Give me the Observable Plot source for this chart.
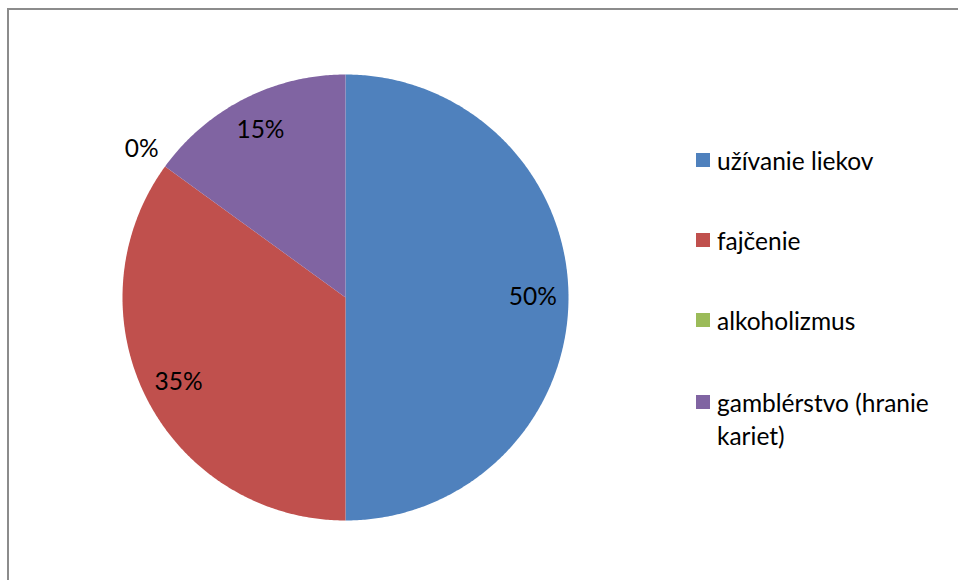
<!DOCTYPE html>
<html>
<head>
<meta charset="utf-8">
<script src="https://cdn.jsdelivr.net/npm/d3@7"></script>
<script src="https://cdn.jsdelivr.net/npm/@observablehq/plot@0.6"></script>
<style>
  body { margin: 0; background: #fff; }
  #wrap { position: relative; width: 958px; height: 580px; overflow: hidden; font-family: Lato, "Open Sans", sans-serif; }
  #frame { position: absolute; left: 7px; top: 8px; width: 960px; height: 600px; border-top: 2px solid #8c8c8c; border-left: 2px solid #8c8c8c; box-sizing: border-box; pointer-events: none; }
  #legend { position: absolute; left: 696px; top: 0; font-size: 24.5px; color: #000; }
  .item { position: absolute; left: 0; width: 262px; display: flex; align-items: flex-start; }
  .sw { width: 14px; height: 14px; margin-top: 9px; margin-right: 7px; flex: none; }
  .lbl { line-height: 33px; width: 241px; }
</style>
</head>
<body>
<div id="wrap">
  <div id="chart"></div>
  <div id="frame"></div>
  <div id="legend"></div>
</div>
<script>
const categories = ["užívanie liekov", "fajčenie", "alkoholizmus", "gamblérstvo (hranie kariet)"];
const values = [50, 35, 0, 15];
const colors = ["#4F81BD", "#C0504D", "#9BBB59", "#8064A2"];
const labels = ["50%", "35%", "0%", "15%"];

const total = d3.sum(values);
const polys = [];
const labelData = [];
let start = 0;
categories.forEach((cat, i) => {
  const span = values[i] / total * 2 * Math.PI;
  const a0 = start, a1 = start + span;
  if (span > 0) {
    polys.push({cat, x: 0, y: 0});
    const n = Math.max(2, Math.ceil(span / (Math.PI / 360)));
    for (let k = 0; k <= n; k++) {
      const a = a0 + (a1 - a0) * k / n;
      polys.push({cat, x: Math.sin(a), y: Math.cos(a)});
    }
    polys.push({cat, x: 0, y: 0});
  }
  const mid = (a0 + a1) / 2;
  const lr = values[i] === 0 ? 1.13 : 0.84;
  labelData.push({cat, text: labels[i], x: lr * Math.sin(mid), y: lr * Math.cos(mid)});
  start = a1;
});

const chart = Plot.plot({
  width: 958,
  height: 580,
  margin: 0,
  x: {domain: [-1, 1], range: [122, 568], axis: null},
  y: {domain: [-1, 1], range: [520, 74], axis: null},
  color: {domain: categories, range: colors},
  style: {fontFamily: "Lato, 'Open Sans', sans-serif", background: "transparent"},
  marks: [
    Plot.line(polys, {x: "x", y: "y", z: "cat", fill: "cat", stroke: "none", curve: "linear-closed"}),
    Plot.text(labelData, {x: "x", y: "y", text: "text", fontSize: 24.5, fill: "#000"})
  ]
});
document.getElementById("chart").appendChild(chart);

const legendTops = [144, 224, 304, 386];
const legend = document.getElementById("legend");
categories.forEach((cat, i) => {
  const it = document.createElement("div");
  it.className = "item";
  it.style.top = legendTops[i] + "px";
  const sw = document.createElement("div");
  sw.className = "sw";
  sw.style.background = colors[i];
  const lb = document.createElement("div");
  lb.className = "lbl";
  lb.textContent = cat;
  it.appendChild(sw);
  it.appendChild(lb);
  legend.appendChild(it);
});
</script>
</body>
</html>
